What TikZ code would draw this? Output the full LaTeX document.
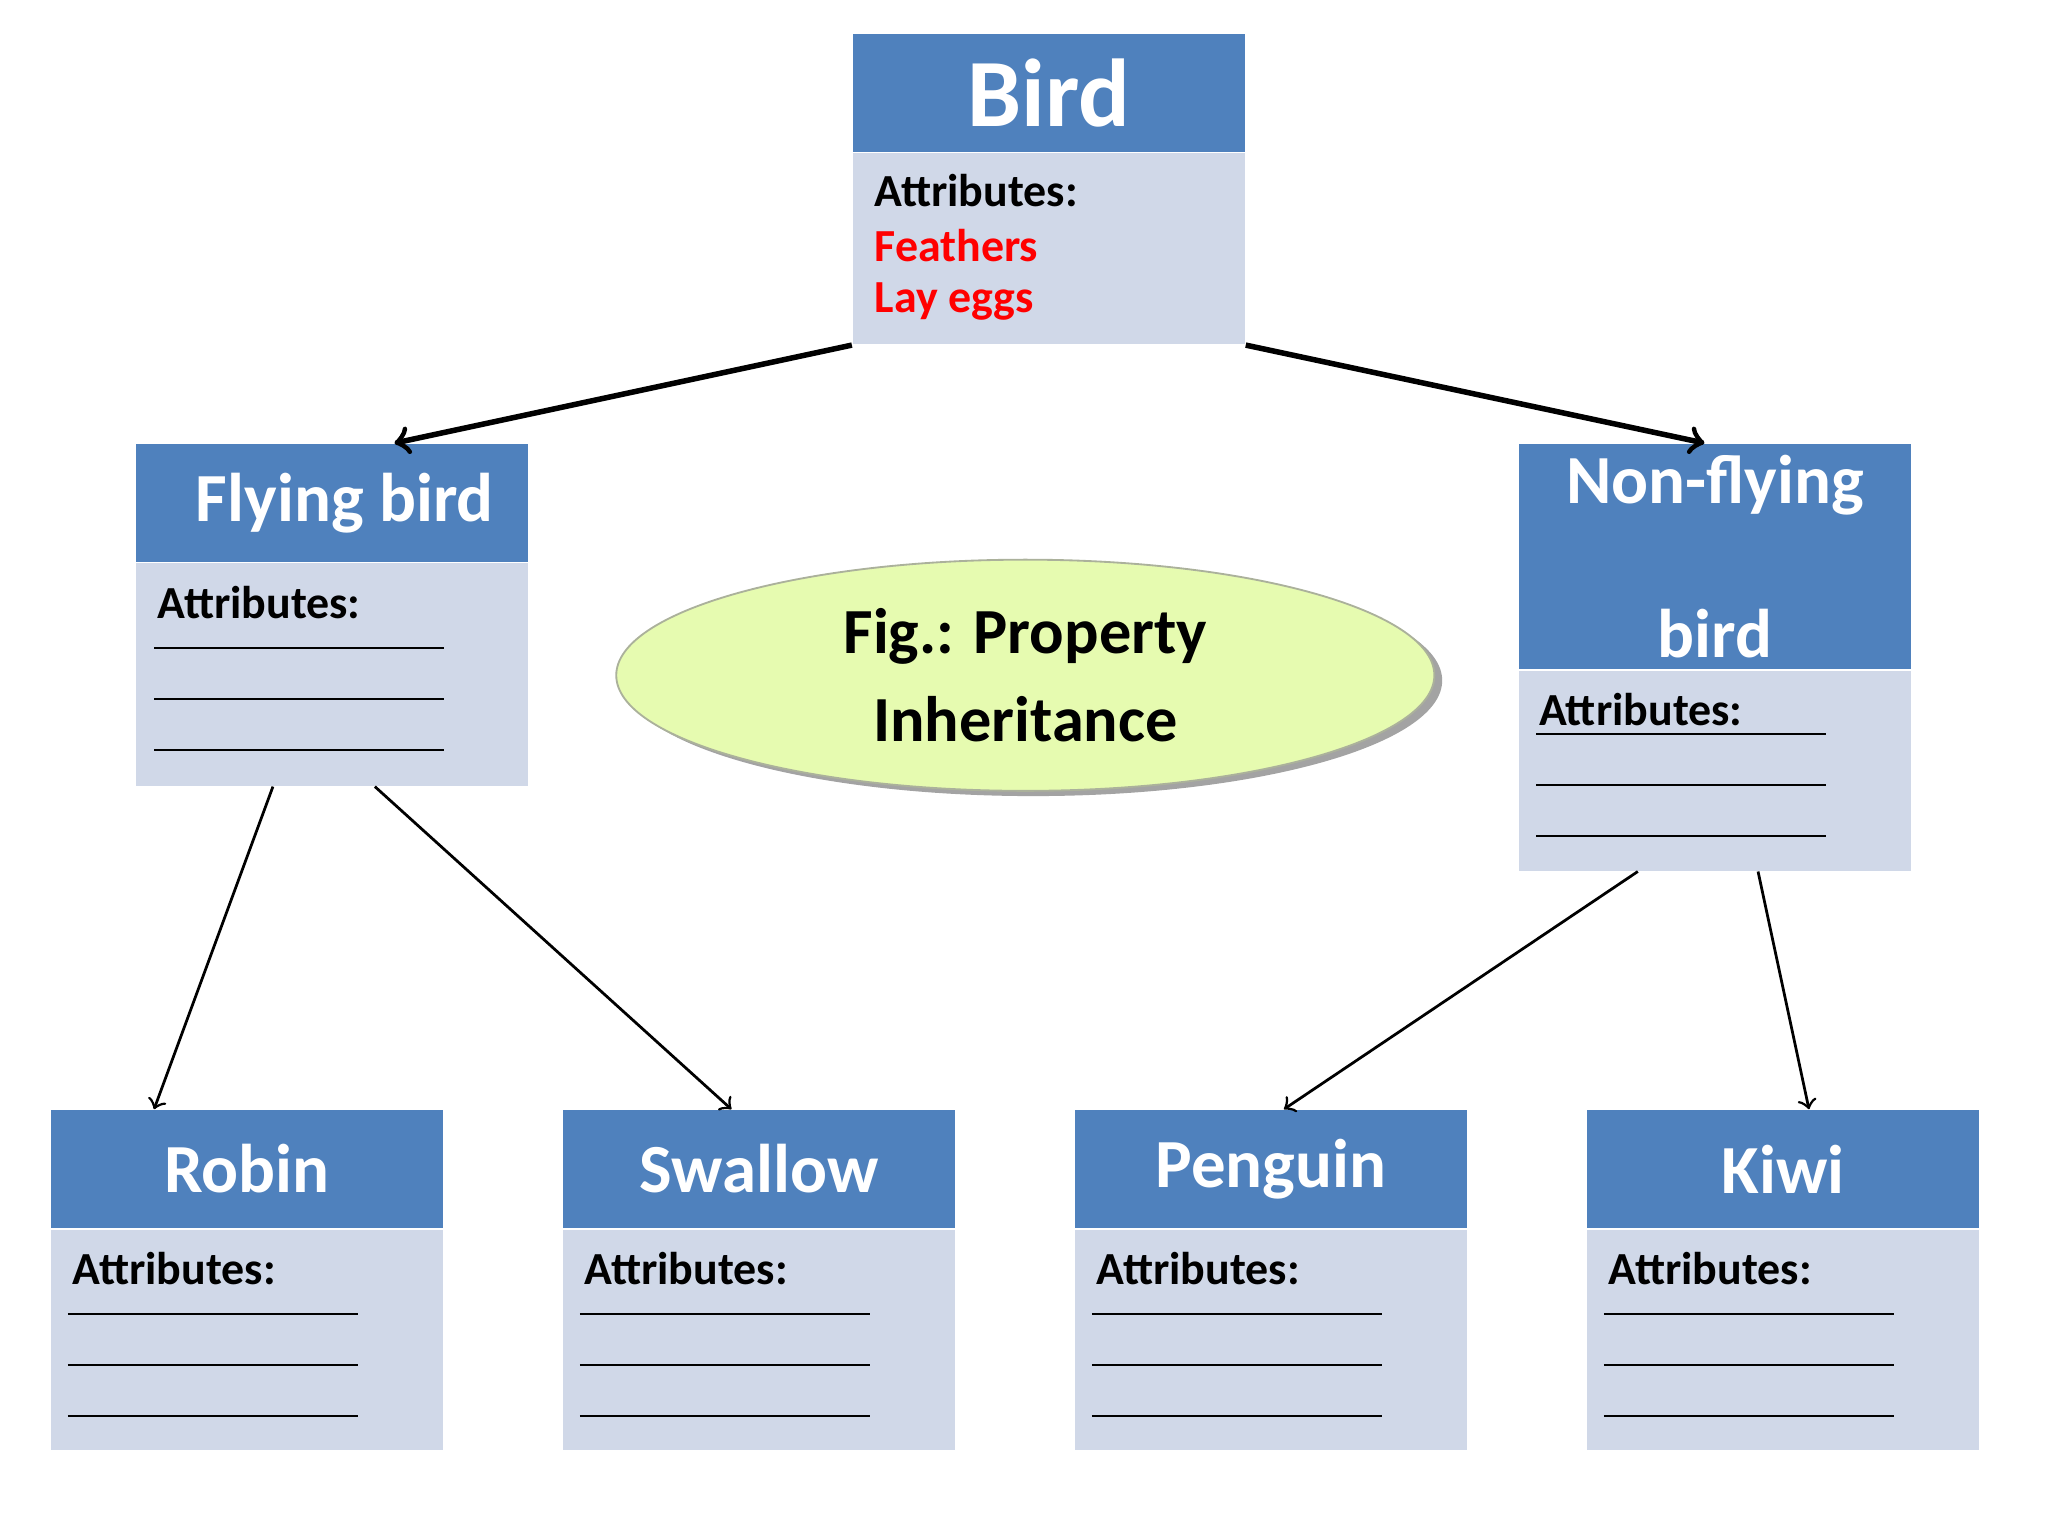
\documentclass[tikz,border=0pt]{standalone}
\usepackage{fontspec}
\setmainfont{Carlito}
\usetikzlibrary{arrows,shapes,shadows,positioning}
\definecolor{headblue}{HTML}{4F81BD}
\definecolor{bodyblue}{HTML}{D0D8E8}
\definecolor{ovalgreen}{HTML}{E6FBB0}

\tikzset{
  head/.style={fill=headblue,draw=none,minimum width=3cm,minimum height=0.9cm,inner sep=0pt,
    font=\fontsize{15}{18}\selectfont\bfseries,text=white},
  body/.style={fill=bodyblue,draw=none,minimum width=3cm,inner sep=0pt,anchor=north},
  attr/.style={font=\fontsize{10}{12}\selectfont\bfseries,anchor=west,inner sep=0pt},
  blank/.style={draw=black,thin},
  link/.style={draw=black,semithick,-to},
  bigLink/.style={draw=black,line width=1.2pt,-to}
}

\begin{document}
\begin{tikzpicture}[x=0.01cm,y=-0.01cm]
    \useasboundingbox (0,0) rectangle (1568,1176);
    % top class
    \node[head,font=\fontsize{21}{24}\selectfont\bfseries] (bird) at (803,71) {Bird};
    \node[body,minimum height=1.46cm] (birdB) at (bird.south) {};
    \node[attr] (birdA) at (669,146) {Attributes:};
    \node[attr,text=red] (birdF) at (669,188) {Feathers};
    \node[attr,text=red] (birdL) at (669,231) {Lay eggs};

    % middle classes
    \node[head] (fly) at (254,385) {\hspace*{0.2cm}Flying bird};
    \node[body,minimum height=1.7cm] (flyB) at (fly.south) {};
    \node[attr] (flyA) at (120,461) {Attributes:};
    \foreach \yy in {496,535,574}
        \draw[blank] (118,\yy) -- (340,\yy);

    \node[head,minimum height=1.72cm,align=center] (non) at (1313,426)
        {Non-flying\\[0.55cm]bird};
    \node[body,minimum height=1.53cm] (nonB) at (non.south) {};
    \node[attr] (nonA) at (1178,543) {Attributes:};
    \foreach \yy in {562,601,640}
        \draw[blank] (1176,\yy) -- (1398,\yy);

    % caption
    \node[ellipse,draw=ovalgreen!50!black!60,fill=ovalgreen,minimum width=6.26cm,minimum height=1.2cm,
        drop shadow={shadow xshift=0.06cm,shadow yshift=-0.04cm,fill=black!45,opacity=.8},
        align=center,font=\fontsize{14}{19}\selectfont\bfseries] (fig) at (785,517)
        {Fig.: Property\\Inheritance};

    % leaf classes
    \foreach \nm/\xx/\txt in {robin/189/Robin,swallow/581/Swallow,penguin/973/Penguin,kiwi/1365/Kiwi}{
        \node[head] (\nm) at (\xx,895) {\txt};
        \node[body,minimum height=1.69cm] (\nm B) at (\nm.south) {};
        \node[attr] (\nm A) at (\xx-134,971) {Attributes:};
        \foreach \yy in {1006,1045,1084}
            \draw[blank] (\xx-137,\yy) -- (\xx+85,\yy);
    }

    % inheritance arrows
    \draw[bigLink] (birdB.south west) -- ([xshift=0.48cm]fly.north);
    \draw[bigLink] (birdB.south east) -- ([xshift=-0.08cm]non.north);
    \draw[link] ([xshift=-0.45cm]flyB.south) -- ([xshift=-0.71cm]robin.north);
    \draw[link] ([xshift=0.33cm]flyB.south) -- ([xshift=-0.21cm]swallow.north);
    \draw[link] ([xshift=-0.59cm]nonB.south) -- ([xshift=0.1cm]penguin.north);
    \draw[link] ([xshift=0.33cm]nonB.south) -- ([xshift=0.2cm]kiwi.north);
\end{tikzpicture}
\end{document}
